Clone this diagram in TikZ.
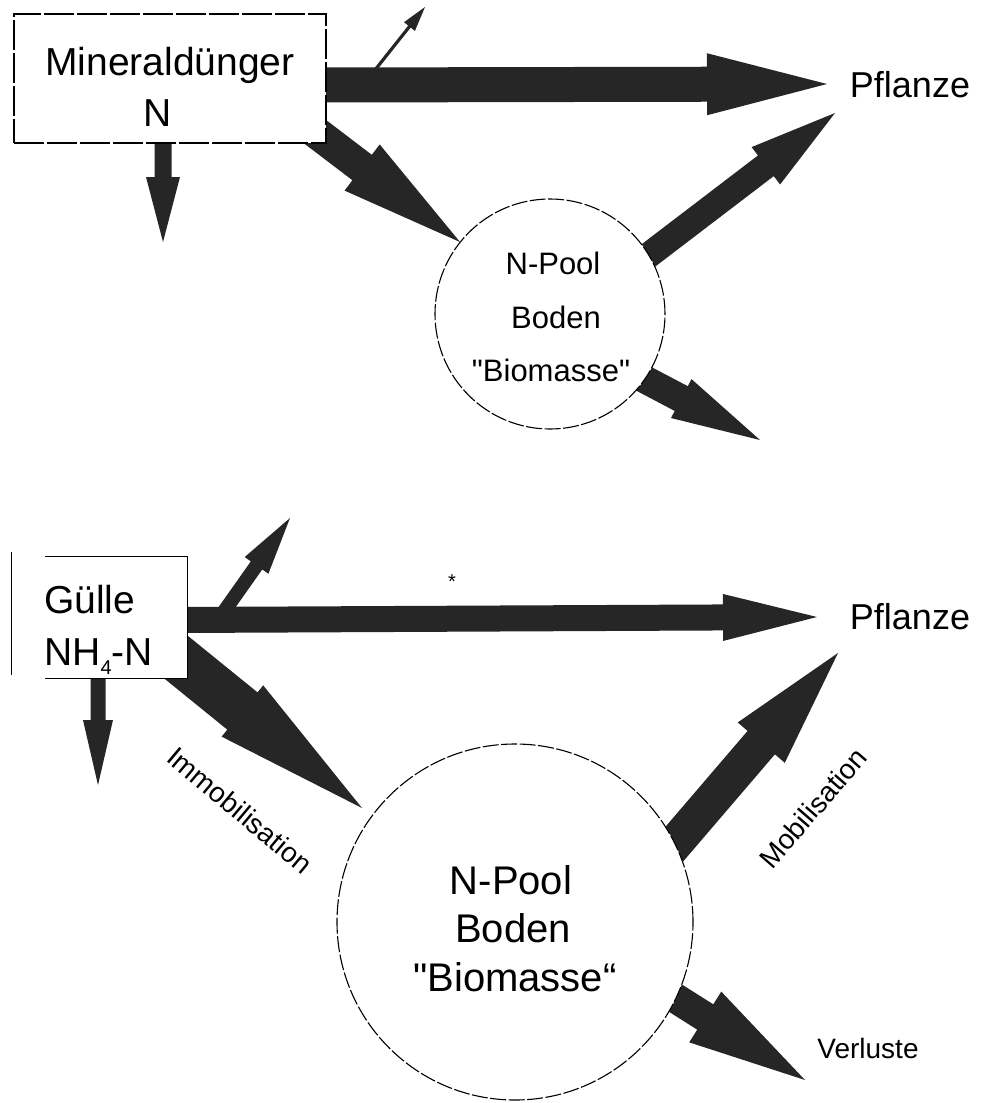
\documentclass[tikz,border=0pt]{standalone}
\usepackage{fontspec}
\setmainfont{Liberation Sans}[Ligatures=TeXOff]
\usetikzlibrary{calc}

\tikzset{
  flow/.style={fill=black!85},
  boxline/.style={line width=1.3pt},
  pool/.style={circle, draw, fill=white, line width=1.1pt, dash pattern=on 16pt off 2.5pt, inner sep=0pt},
  txtbig/.style={inner sep=0pt, font=\fontsize{39pt}{46pt}\selectfont},
  txtmid/.style={inner sep=0pt, font=\fontsize{36pt}{42pt}\selectfont},
  txtpool/.style={inner sep=0pt, font=\fontsize{31pt}{36pt}\selectfont},
  txtpoolb/.style={inner sep=0pt, font=\fontsize{40pt}{46pt}\selectfont},
  txtsmall/.style={inner sep=0pt, font=\fontsize{28pt}{32pt}\selectfont},
}

% block arrow: #1 start, #2 tip, #3 half shaft width, #4 half head width, #5 head length
\newcommand{\flowarrow}[5]{%
  \coordinate (fa-b) at ($(#2)!#5!(#1)$);
  \fill[flow] ($(#1)!#3!90:(#2)$) -- ($(fa-b)!#3!-90:(#1)$) -- ($(fa-b)!#4!-90:(#1)$)
    -- (#2) -- ($(fa-b)!#4!90:(#1)$) -- ($(fa-b)!#3!90:(#1)$) -- ($(#1)!#3!-90:(#2)$) -- cycle;
}

\begin{document}
\begin{tikzpicture}[x=1pt, y=-1pt]
\useasboundingbox (0,0) rectangle (980,1103);

% ---------- upper scheme: mineral fertiliser ----------
\coordinate (h1s) at (320,85);   \coordinate (h1t) at (827,84);
\coordinate (th1s) at (371,75);  \coordinate (th1t) at (425,7);
\coordinate (d1s) at (163,135);  \coordinate (d1t) at (163,242);
\coordinate (g1s) at (301,121);  \coordinate (g1t) at (460,242);
\coordinate (u1s) at (628,271);  \coordinate (u1t) at (835,113);
\coordinate (v1s) at (627,370);  \coordinate (v1t) at (760,440);

\flowarrow{h1s}{h1t}{17.5pt}{31pt}{120pt}
\flowarrow{d1s}{d1t}{8.5pt}{17pt}{65pt}
\flowarrow{g1s}{g1t}{16pt}{29pt}{123pt}
\flowarrow{u1s}{u1t}{13pt}{23.5pt}{87pt}
\flowarrow{v1s}{v1t}{14pt}{22pt}{89pt}
\flowarrow{th1s}{th1t}{1.6pt}{7pt}{25pt}

\node[draw, fill=white, boxline, dash pattern=on 30pt off 3pt, minimum width=312pt, minimum height=129pt, inner sep=0pt] (mdung) at (170,78.5) {};
\node[txtbig] (mdung-a) at (170,65) {Mineraldünger};
\node[txtbig] (mdung-b) at (158,113) {N};

\node[pool, minimum size=230pt] (pool1) at (550,314) {};
\node[txtpool] (pool1-a) at (553,263) {N-Pool};
\node[txtpool] (pool1-b) at (556,317) {Boden};
\node[txtpool] (pool1-c) at (551,370) {"Biomasse"};

\node[txtmid] (pfl1) at (910,85) {Pflanze};

% ---------- lower scheme: slurry ----------
\coordinate (h2s) at (180,620);  \coordinate (h2t) at (817,617);
\coordinate (u2s) at (218,620);  \coordinate (u2t) at (290,518);
\coordinate (d2s) at (98,670);   \coordinate (d2t) at (98,785);
\coordinate (g2s) at (129,619);  \coordinate (g2t) at (362,808);
\coordinate (m2s) at (623,904);  \coordinate (m2t) at (838,653);
\coordinate (v2s) at (585,941);  \coordinate (v2t) at (805,1080);

\flowarrow{u2s}{u2t}{7pt}{14.5pt}{58pt}
\flowarrow{h2s}{h2t}{13pt}{23.5pt}{94pt}
\flowarrow{d2s}{d2t}{7.5pt}{15pt}{65pt}
\flowarrow{g2s}{g2t}{24pt}{33pt}{154pt}
\flowarrow{m2s}{m2t}{18pt}{31pt}{118pt}
\flowarrow{v2s}{v2t}{15pt}{30pt}{118pt}

\node[fill=white, minimum width=175pt, minimum height=121pt, inner sep=0pt] (guelle) at (99.5,617.5) {};
\draw[boxline] ([xshift=33pt]guelle.north west) -- (guelle.north east)
  -- (guelle.south east) -- ([xshift=33pt]guelle.south west);
\draw[boxline] ([yshift=5pt]guelle.north west) -- ([yshift=3pt]guelle.south west);
\node[txtbig, anchor=west] (guelle-a) at (44,600) {Gülle};
\node[txtbig, anchor=west] (guelle-b) at (44,657) {NH\raisebox{-9pt}{\fontsize{20pt}{20pt}\selectfont 4}-N};

\node[font=\fontsize{20pt}{20pt}\selectfont, inner sep=0pt] (star) at (452,582) {*};

\node[pool, minimum size=356pt] (pool2) at (515,922) {};
\node[txtpoolb] (pool2-a) at (511,880) {N-Pool};
\node[txtpoolb] (pool2-b) at (513,928) {Boden};
\node[txtpoolb] (pool2-c) at (515,977) {"Biomasse“};

\node[txtmid] (pfl2) at (910,617) {Pflanze};
\node[txtsmall, rotate=-40] (immo) at (240,810) {Immobilisation};
\node[txtsmall, rotate=49] (mobi) at (813,808) {Mobilisation};
\node[txtsmall] (verl) at (868,1048) {Verluste};
\end{tikzpicture}
\end{document}
